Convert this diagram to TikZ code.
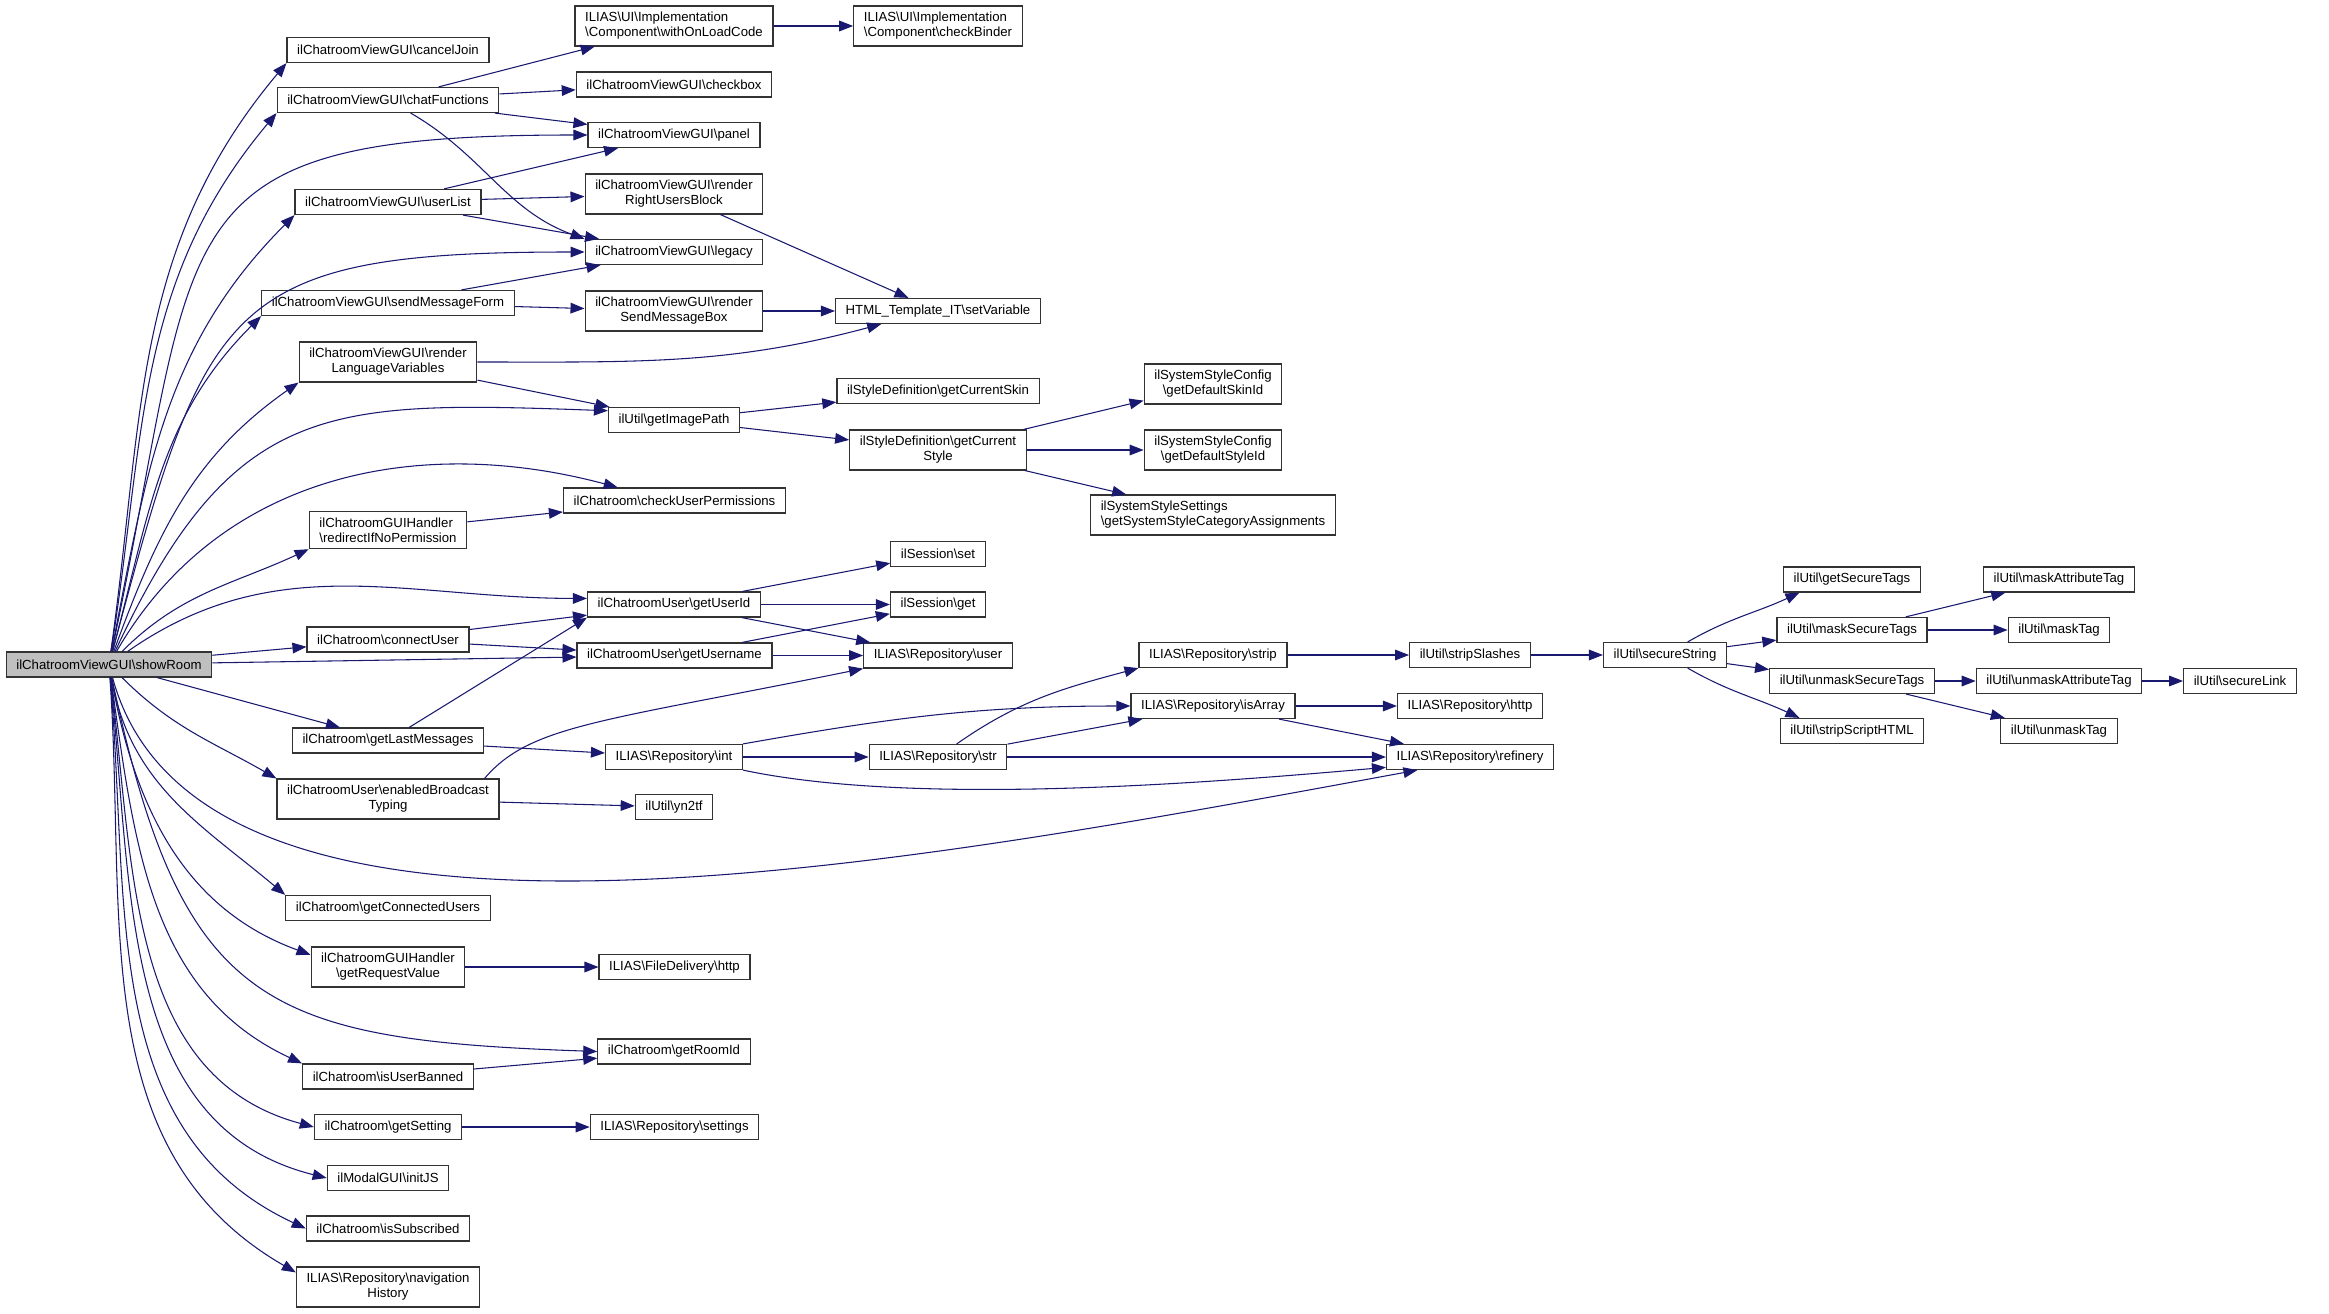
\documentclass[tikz,border=0pt]{standalone}
\usepackage{fontspec}
\setmainfont{Liberation Sans}
\usetikzlibrary{arrows.meta}
\definecolor{calledge}{HTML}{191970}
\definecolor{rootfill}{HTML}{BFBFBF}
\newcommand{\bsl}{\textbackslash}

\begin{document}
\begin{tikzpicture}[
    x=0.75pt, y=0.75pt,
    fn/.style = {rectangle, draw=black!80, line width=0.9pt, align=center,
                 font=\fontsize{9.9}{11.25}\selectfont,
                 inner xsep=7.6pt, inner ysep=4.7pt, minimum height=18.75pt},
    root/.style = {fn, fill=rootfill},
    callline/.style = {-{Triangle[length=10.5pt, width=8pt]}, calledge, line width=0.8pt}
]
    \useasboundingbox (0,0) rectangle (2329,-1313);

    \node[root] (show) at (109,-664.5) {ilChatroomViewGUI\bsl showRoom};

    % callees of showRoom
    \node[fn] (cancel)   at (388,-50)    {ilChatroomViewGUI\bsl cancelJoin};
    \node[fn] (chatfn)   at (388,-100)   {ilChatroomViewGUI\bsl chatFunctions};
    \node[fn] (ulist)    at (388,-202)   {ilChatroomViewGUI\bsl userList};
    \node[fn] (sendform) at (388,-303)   {ilChatroomViewGUI\bsl sendMessageForm};
    \node[fn] (langvars) at (388,-362)   {ilChatroomViewGUI\bsl render\\LanguageVariables};
    \node[fn, align=left] (redirect) at (388,-530) {ilChatroomGUIHandler\\\bsl redirectIfNoPermission};
    \node[fn] (connect)  at (388,-639.5) {ilChatroom\bsl connectUser};
    \node[fn] (lastmsg)  at (388,-740.5) {ilChatroom\bsl getLastMessages};
    \node[fn] (typing)   at (388,-799)   {ilChatroomUser\bsl enabledBroadcast\\Typing};
    \node[fn] (conusers) at (388,-908)   {ilChatroom\bsl getConnectedUsers};
    \node[fn] (reqval)   at (388,-967)   {ilChatroomGUIHandler\\\bsl getRequestValue};
    \node[fn] (banned)   at (388,-1076.5) {ilChatroom\bsl isUserBanned};
    \node[fn] (getset)   at (388,-1127)  {ilChatroom\bsl getSetting};
    \node[fn] (initjs)   at (388,-1178)  {ilModalGUI\bsl initJS};
    \node[fn] (subscr)   at (388,-1228.5) {ilChatroom\bsl isSubscribed};
    \node[fn] (navhist)  at (388,-1287)  {ILIAS\bsl Repository\bsl navigation\\History};

    % third column
    \node[fn, align=left] (onload) at (674,-26) {ILIAS\bsl UI\bsl Implementation\\\bsl Component\bsl withOnLoadCode};
    \node[fn] (checkbox)   at (674,-84.5)  {ilChatroomViewGUI\bsl checkbox};
    \node[fn] (panel)      at (674,-135)   {ilChatroomViewGUI\bsl panel};
    \node[fn] (rightusers) at (674,-194)   {ilChatroomViewGUI\bsl render\\RightUsersBlock};
    \node[fn] (legacy)     at (674,-252)   {ilChatroomViewGUI\bsl legacy};
    \node[fn] (sendbox)    at (674,-311)   {ilChatroomViewGUI\bsl render\\SendMessageBox};
    \node[fn] (imgpath)    at (674,-420)   {ilUtil\bsl getImagePath};
    \node[fn] (checkperm)  at (674.5,-500.5) {ilChatroom\bsl checkUserPermissions};
    \node[fn] (userid)     at (674,-604.5) {ilChatroomUser\bsl getUserId};
    \node[fn] (username)   at (674.5,-655.5) {ilChatroomUser\bsl getUsername};
    \node[fn] (rint)       at (674,-757)   {ILIAS\bsl Repository\bsl int};
    \node[fn] (yntf)       at (674,-807)   {ilUtil\bsl yn2tf};
    \node[fn] (fdhttp)     at (674.5,-967) {ILIAS\bsl FileDelivery\bsl http};
    \node[fn] (roomid)     at (674,-1051.5) {ilChatroom\bsl getRoomId};
    \node[fn] (rsettings)  at (674.5,-1127) {ILIAS\bsl Repository\bsl settings};

    % fourth column
    \node[fn, align=left] (binder) at (938,-26) {ILIAS\bsl UI\bsl Implementation\\\bsl Component\bsl checkBinder};
    \node[fn] (setvar)   at (938,-311)   {HTML\_Template\_IT\bsl setVariable};
    \node[fn] (curskin)  at (938,-391)   {ilStyleDefinition\bsl getCurrentSkin};
    \node[fn] (curstyle) at (938,-450)   {ilStyleDefinition\bsl getCurrent\\Style};
    \node[fn] (sessset)  at (938,-554)   {ilSession\bsl set};
    \node[fn] (sessget)  at (938,-604.5) {ilSession\bsl get};
    \node[fn] (ruser)    at (938,-655.5) {ILIAS\bsl Repository\bsl user};
    \node[fn] (rstr)     at (938,-757)   {ILIAS\bsl Repository\bsl str};

    % fifth and sixth column
    \node[fn] (defskin)  at (1213,-384) {ilSystemStyleConfig\\\bsl getDefaultSkinId};
    \node[fn] (defstyle) at (1213,-450) {ilSystemStyleConfig\\\bsl getDefaultStyleId};
    \node[fn, align=left] (catassign) at (1213,-515) {ilSystemStyleSettings\\\bsl getSystemStyleCategoryAssignments};
    \node[fn] (strip)    at (1213,-655) {ILIAS\bsl Repository\bsl strip};
    \node[fn] (isarray)  at (1213,-706) {ILIAS\bsl Repository\bsl isArray};
    \node[fn] (slashes)  at (1470,-655) {ilUtil\bsl stripSlashes};
    \node[fn] (rhttp)    at (1470,-706) {ILIAS\bsl Repository\bsl http};
    \node[fn] (refinery) at (1470,-757) {ILIAS\bsl Repository\bsl refinery};

    % secureString and below
    \node[fn] (secstr)      at (1665,-655)   {ilUtil\bsl secureString};
    \node[fn] (sectags)     at (1852,-579.5) {ilUtil\bsl getSecureTags};
    \node[fn] (masktags)    at (1852,-630)   {ilUtil\bsl maskSecureTags};
    \node[fn] (unmasktags)  at (1852,-681)   {ilUtil\bsl unmaskSecureTags};
    \node[fn] (stripscript) at (1852,-731)   {ilUtil\bsl stripScriptHTML};
    \node[fn] (maskattr)    at (2059,-579.5) {ilUtil\bsl maskAttributeTag};
    \node[fn] (masktag)     at (2059,-630)   {ilUtil\bsl maskTag};
    \node[fn] (unmaskattr)  at (2059,-681)   {ilUtil\bsl unmaskAttributeTag};
    \node[fn] (unmasktag)   at (2059,-731)   {ilUtil\bsl unmaskTag};
    \node[fn] (seclink)     at (2240,-681)   {ilUtil\bsl secureLink};

    % fan out of showRoom
    \draw[callline] (show) to[out=82, in=-130] (cancel.south west);
    \draw[callline] (show) to[out=81, in=-130] (chatfn.south west);
    \draw[callline] (show) to[out=78, in=180, looseness=1.6] (panel.west);
    \draw[callline] (show) to[out=79, in=-135] (ulist.south west);
    \draw[callline] (show) to[out=75, in=180, looseness=1.5] (legacy.west);
    \draw[callline] (show) to[out=75, in=-135] (sendform.south west);
    \draw[callline] (show) to[out=70, in=-145] (langvars.south west);
    \draw[callline] (show) to[out=65, in=178, looseness=1.3] (imgpath.172);
    \draw[callline] (show) to[out=60, in=165] (checkperm.167);
    \draw[callline] (show) to[out=45, in=-155] (redirect.south west);
    \draw[callline] (show) to[out=35, in=180] (userid.176);
    \draw[callline] (show) -- (connect);
    \draw[callline] (show) -- (username);
    \draw[callline] (show) -- (lastmsg);
    \draw[callline] (show) to[out=-45, in=150] (typing.north west);
    \draw[callline] (show) .. controls (200,-1000) and (900,-865) .. (refinery.194);
    \draw[callline] (show) to[out=-80, in=140] (conusers.north west);
    \draw[callline] (show) to[out=-80, in=160] (reqval.171);
    \draw[callline] (show) to[out=-78, in=178, looseness=1.4] (roomid.west);
    \draw[callline] (show) to[out=-82, in=155] (banned.north west);
    \draw[callline] (show) to[out=-83, in=165] (getset.west);
    \draw[callline] (show) to[out=-84, in=166] (initjs.west);
    \draw[callline] (show) to[out=-85, in=155] (subscr.west);
    \draw[callline] (show) to[out=-86, in=150] (navhist.171);

    % the view side
    \draw[callline] (chatfn) -- (onload);
    \draw[callline] (chatfn) -- (checkbox);
    \draw[callline] (chatfn) -- (panel);
    \draw[callline] (chatfn) to[out=-30, in=160] (legacy.north west);
    \draw[callline] (onload) -- (binder);
    \draw[callline] (ulist) -- (panel);
    \draw[callline] (ulist) -- (rightusers);
    \draw[callline] (ulist) -- (legacy);
    \draw[callline] (rightusers) -- (setvar);
    \draw[callline] (sendform) -- (legacy);
    \draw[callline] (sendform) -- (sendbox);
    \draw[callline] (sendbox) -- (setvar);
    \draw[callline] (langvars.east) to[out=0, in=-165] (setvar.193);
    \draw[callline] (langvars) -- (imgpath);
    \draw[callline] (imgpath) -- (curskin);
    \draw[callline] (imgpath) -- (curstyle);
    \draw[callline] (curstyle) -- (defskin);
    \draw[callline] (curstyle) -- (defstyle);
    \draw[callline] (curstyle) -- (catassign);
    \draw[callline] (redirect) -- (checkperm);

    % users and session
    \draw[callline] (userid) -- (sessset);
    \draw[callline] (userid) -- (sessget);
    \draw[callline] (userid) -- (ruser);
    \draw[callline] (connect) -- (userid);
    \draw[callline] (connect) -- (username);
    \draw[callline] (username) -- (sessget);
    \draw[callline] (username) -- (ruser);
    \draw[callline] (lastmsg) -- (userid.south west);
    \draw[callline] (lastmsg) -- (rint);
    \draw[callline] (typing.12) .. controls (530,-725) and (600,-722) .. (ruser.south west);
    \draw[callline] (typing) -- (yntf);

    % repository wrappers
    \draw[callline] (rint.north east) to[out=10, in=180] (isarray.west);
    \draw[callline] (rint) -- (rstr);
    \draw[callline] (rint.south east) to[out=-12, in=-175, looseness=0.7] (refinery.187);
    \draw[callline] (rstr) to[out=35, in=-165] (strip.south west);
    \draw[callline] (rstr) -- (isarray);
    \draw[callline] (rstr) -- (refinery);
    \draw[callline] (isarray) -- (rhttp);
    \draw[callline] (isarray) -- (refinery);
    \draw[callline] (strip) -- (slashes);
    \draw[callline] (slashes) -- (secstr);

    % secureString
    \draw[callline] (secstr) to[out=30, in=-155] (sectags.194);
    \draw[callline] (secstr) -- (masktags);
    \draw[callline] (secstr) -- (unmasktags);
    \draw[callline] (secstr) to[out=-30, in=155] (stripscript.166);
    \draw[callline] (masktags) -- (maskattr);
    \draw[callline] (masktags) -- (masktag);
    \draw[callline] (unmasktags) -- (unmaskattr);
    \draw[callline] (unmasktags) -- (unmasktag);
    \draw[callline] (unmaskattr) -- (seclink);

    % lower callees
    \draw[callline] (reqval) -- (fdhttp);
    \draw[callline] (banned) -- (roomid);
    \draw[callline] (getset) -- (rsettings);
\end{tikzpicture}
\end{document}
